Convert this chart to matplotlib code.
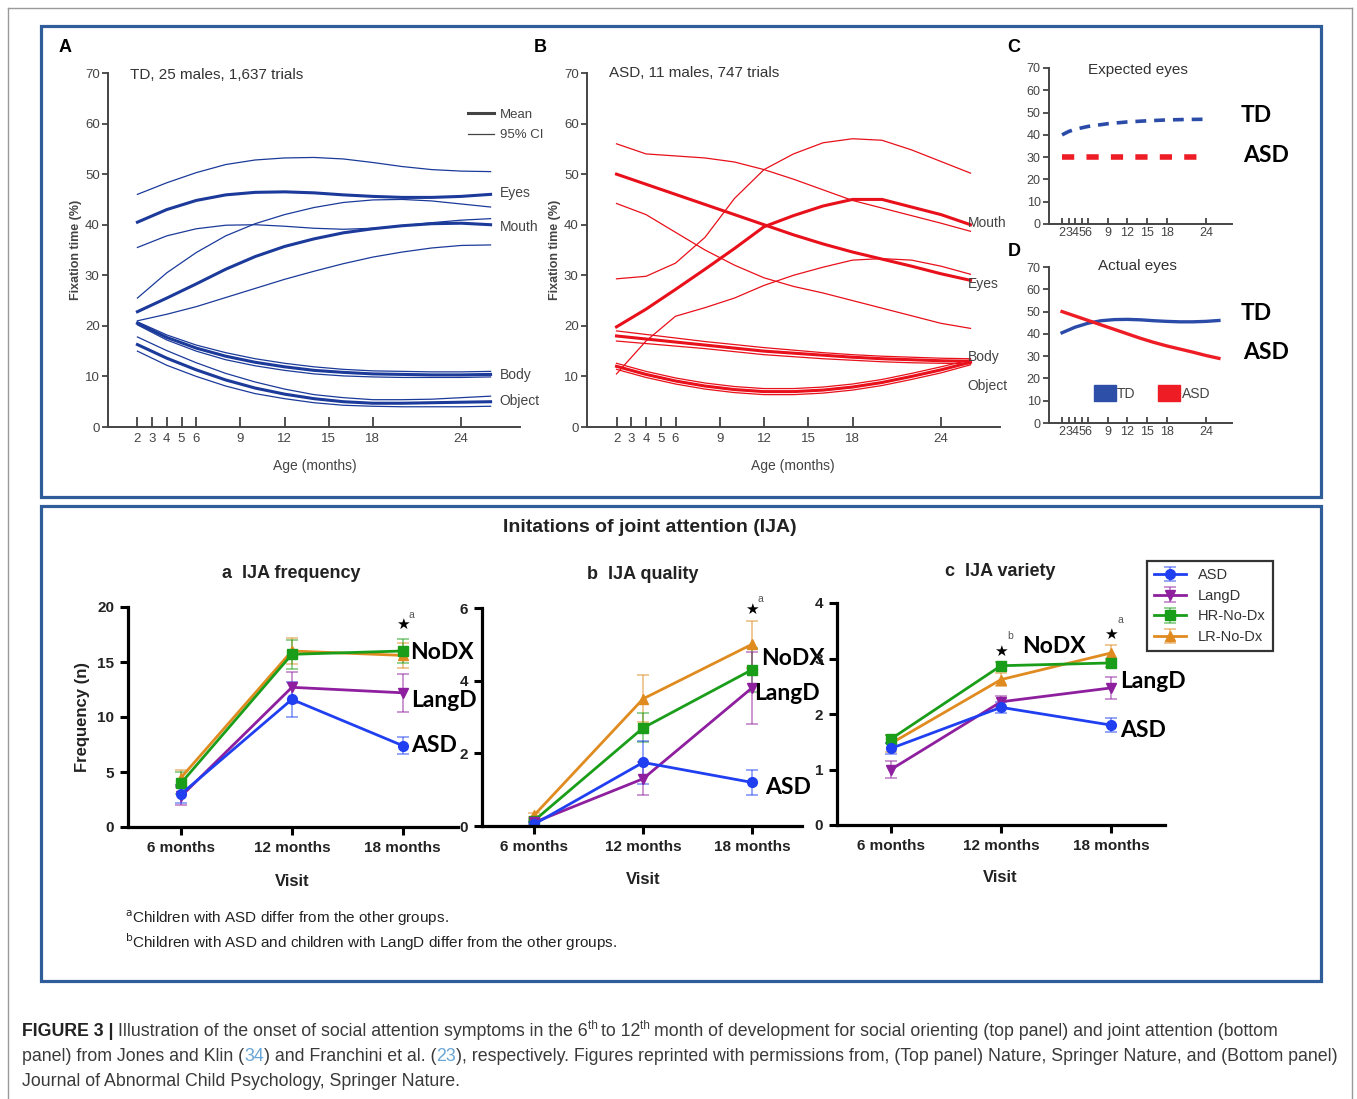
import numpy as np
import matplotlib
matplotlib.use("Agg")
import matplotlib.pyplot as plt
from matplotlib.lines import Line2D
from matplotlib.patches import Rectangle, Patch

W, H = 1357, 1099
NARROW = ['Liberation Sans Narrow', 'Liberation Sans', 'DejaVu Sans']
SANS = ['Liberation Sans', 'DejaVu Sans']
CALIBRI = ['Lato', 'DejaVu Sans']

# ---- top panel data (fixation time, %) ----
ages = [2, 4, 6, 8, 10, 12, 14, 16, 18, 20, 22, 24, 26]
age_ticks = [2, 3, 4, 5, 6, 9, 12, 15, 18, 24]

td_eyes = [40.5, 43.0, 44.8, 45.9, 46.4, 46.5, 46.3, 45.9, 45.6, 45.4, 45.4, 45.6, 46.0]
td_eyes_hi = [46.0, 48.3, 50.3, 51.9, 52.8, 53.2, 53.3, 53.0, 52.3, 51.5, 50.9, 50.6, 50.5]
td_eyes_lo = [35.5, 37.8, 39.2, 39.9, 40.0, 39.7, 39.3, 39.1, 39.3, 39.8, 40.4, 40.9, 41.2]
td_mouth = [22.8, 25.5, 28.3, 31.2, 33.7, 35.7, 37.2, 38.4, 39.2, 39.8, 40.2, 40.3, 40.0]
td_mouth_hi = [25.5, 30.5, 34.5, 37.8, 40.2, 42.0, 43.4, 44.4, 44.9, 45.0, 44.7, 44.1, 43.5]
td_mouth_lo = [21.0, 22.3, 23.8, 25.6, 27.4, 29.2, 30.8, 32.3, 33.6, 34.6, 35.4, 35.9, 36.0]
td_body = [20.5, 17.7, 15.6, 14.0, 12.8, 11.9, 11.2, 10.8, 10.5, 10.4, 10.3, 10.3, 10.4]
td_body_hi = [20.8, 18.2, 16.2, 14.7, 13.5, 12.6, 11.9, 11.4, 11.1, 11.0, 10.9, 10.9, 11.0]
td_body_lo = [20.2, 17.2, 15.0, 13.3, 12.1, 11.2, 10.5, 10.1, 9.9, 9.8, 9.8, 9.8, 9.9]
td_object = [16.3, 13.6, 11.3, 9.3, 7.7, 6.5, 5.6, 5.0, 4.7, 4.7, 4.8, 4.9, 5.0]
td_object_hi = [17.8, 15.1, 12.7, 10.6, 8.9, 7.5, 6.4, 5.8, 5.4, 5.4, 5.5, 5.8, 6.1]
td_object_lo = [15.0, 12.2, 10.0, 8.1, 6.6, 5.6, 4.8, 4.3, 4.1, 4.0, 4.0, 4.0, 4.1]

asd_eyes = [50.0, 48.0, 46.0, 44.0, 42.0, 40.0, 38.0, 36.2, 34.6, 33.2, 31.8, 30.3, 29.0]
asd_eyes_hi = [56.0, 54.0, 53.6, 53.2, 52.4, 50.9, 49.0, 46.9, 44.8, 43.3, 41.8, 40.3, 38.7]
asd_eyes_lo = [44.2, 42.0, 38.5, 35.0, 32.0, 29.5, 27.8, 26.5, 25.0, 23.5, 22.0, 20.5, 19.5]
asd_mouth = [19.8, 23.3, 27.2, 31.2, 35.3, 39.6, 41.8, 43.7, 45.0, 45.0, 43.5, 42.0, 40.0]
asd_mouth_hi = [29.3, 29.8, 32.4, 37.5, 45.2, 50.9, 54.0, 56.2, 57.0, 56.7, 54.8, 52.5, 50.2]
asd_mouth_lo = [10.5, 17.0, 21.9, 23.6, 25.5, 28.0, 30.0, 31.6, 33.0, 33.3, 33.0, 31.8, 30.2]
asd_body = [18.0, 17.4, 16.8, 16.2, 15.6, 15.0, 14.6, 14.2, 13.8, 13.5, 13.3, 13.1, 13.0]
asd_body_hi = [19.0, 18.3, 17.6, 16.9, 16.3, 15.7, 15.2, 14.7, 14.3, 14.0, 13.8, 13.6, 13.5]
asd_body_lo = [17.0, 16.5, 16.0, 15.5, 14.9, 14.3, 13.9, 13.5, 13.2, 12.9, 12.7, 12.6, 12.5]
asd_object = [12.0, 10.4, 9.1, 8.1, 7.4, 7.0, 7.0, 7.3, 7.9, 8.8, 10.0, 11.3, 12.8]
asd_object_hi = [12.6, 11.0, 9.7, 8.7, 8.0, 7.6, 7.6, 7.9, 8.5, 9.4, 10.6, 11.9, 13.3]
asd_object_lo = [11.4, 9.8, 8.5, 7.5, 6.8, 6.4, 6.4, 6.7, 7.3, 8.2, 9.4, 10.7, 12.3]

exp_ages = [2, 3, 4, 6, 9, 12, 15, 18, 21, 24]
td_expected = [40.0, 41.5, 42.5, 43.8, 45.0, 45.8, 46.3, 46.7, 46.9, 47.0]
asd_exp_ages = [2, 24]
asd_expected = [30.0, 30.0]

# ---- bottom panel data (IJA) ----
visits = ['6 months', '12 months', '18 months']
groups = ['ASD', 'LangD', 'HR-No-Dx', 'LR-No-Dx']
freq = {'ASD': [3.0, 11.6, 7.4], 'LangD': [2.8, 12.7, 12.2],
        'HR-No-Dx': [4.0, 15.7, 16.0], 'LR-No-Dx': [4.5, 16.0, 15.6]}
freq_err = {'ASD': [0.8, 1.6, 0.8], 'LangD': [0.8, 1.4, 1.7],
            'HR-No-Dx': [1.0, 1.3, 1.1], 'LR-No-Dx': [0.7, 1.2, 1.1]}
qual = {'ASD': [0.05, 1.75, 1.2], 'LangD': [0.1, 1.3, 3.8],
        'HR-No-Dx': [0.15, 2.7, 4.3], 'LR-No-Dx': [0.3, 3.5, 5.0]}
qual_err = {'ASD': [0.05, 0.6, 0.35], 'LangD': [0.05, 0.45, 1.0],
            'HR-No-Dx': [0.05, 0.4, 0.6], 'LR-No-Dx': [0.05, 0.65, 0.65]}
vari = {'ASD': [1.38, 2.12, 1.8], 'LangD': [1.0, 2.22, 2.47],
        'HR-No-Dx': [1.55, 2.87, 2.92], 'LR-No-Dx': [1.47, 2.62, 3.1]}
vari_err = {'ASD': [0.1, 0.1, 0.12], 'LangD': [0.15, 0.1, 0.2],
            'HR-No-Dx': [0.07, 0.07, 0.07], 'LR-No-Dx': [0.15, 0.12, 0.15]}
colors = {'ASD': '#1f3ff0', 'LangD': '#8e1f9e', 'HR-No-Dx': '#1a9e1a', 'LR-No-Dx': '#e08b20'}
markers = {'ASD': 'o', 'LangD': 'v', 'HR-No-Dx': 's', 'LR-No-Dx': '^'}

fig = plt.figure(figsize=(W / 100, H / 100), dpi=100)


def px_axes(l, t, r, b):
    return fig.add_axes([l / W, 1 - b / H, (r - l) / W, (b - t) / H])


def ftext(x, y, s, **kw):
    return fig.text(x / W, 1 - y / H, s, **kw)


# frames
for xs, ys in [([8, 8], [8, 1099]), ([8, 1352], [8, 8]), ([1352, 1352], [8, 1099])]:
    fig.add_artist(Line2D([x / W for x in xs], [1 - y / H for y in ys], color='#9a9a9a', lw=1))
for (l, t, r, b) in [(41, 26, 1321, 497), (41, 506, 1321, 981)]:
    fig.add_artist(Rectangle((l / W, 1 - b / H), (r - l) / W, (b - t) / H, fill=False,
                             edgecolor='#2e5d9a', lw=2.3, transform=fig.transFigure))


def style_top(ax, tsize=9.5):
    ax.set_xlim(0, 28)
    ax.set_ylim(0, 70)
    for s in ['top', 'right']:
        ax.spines[s].set_visible(False)
    for s in ['left', 'bottom']:
        ax.spines[s].set_color('#444444')
        ax.spines[s].set_linewidth(1.4)
    ax.set_xticks(age_ticks)
    ax.set_yticks(range(0, 71, 10))
    ax.tick_params(axis='x', direction='in', length=7, width=1.3, color='#444444',
                   labelcolor='#444444', labelsize=tsize, pad=4)
    ax.tick_params(axis='y', direction='out', length=4, width=1.3, color='#444444',
                   labelcolor='#444444', labelsize=tsize, pad=2)
    for lab in ax.get_xticklabels() + ax.get_yticklabels():
        lab.set_family(NARROW)
    ax.patch.set_alpha(0)


def draw_region(ax, color, mean, hi, lo):
    ax.plot(ages, hi, color=color, lw=0.9)
    ax.plot(ages, lo, color=color, lw=0.9)
    ax.plot(ages, mean, color=color, lw=2.2)


# panel A
axA = px_axes(108, 73, 520, 427)
style_top(axA)
blue = '#1b3a9a'
for m, h, l in [(td_eyes, td_eyes_hi, td_eyes_lo), (td_mouth, td_mouth_hi, td_mouth_lo),
                (td_body, td_body_hi, td_body_lo), (td_object, td_object_hi, td_object_lo)]:
    draw_region(axA, blue, m, h, l)
for lab, yv in [('Eyes', 46.3), ('Mouth', 39.5), ('Body', 10.3), ('Object', 5.1)]:
    axA.text(26.6, yv, lab, fontsize=10, family=NARROW, color='#444444', va='center', ha='left')
axA.legend(handles=[Line2D([], [], color='#444444', lw=2.2), Line2D([], [], color='#444444', lw=0.9)],
           labels=['Mean', '95% CI'], frameon=False, loc='upper left',
           bbox_to_anchor=(456 / W, 1 - 97 / H), bbox_transform=fig.transFigure,
           handlelength=2.0, handletextpad=0.4, labelspacing=0.6,
           prop={'family': NARROW, 'size': 9.5}, labelcolor='#444444')

# panel B
axB = px_axes(587, 73, 1000, 427)
style_top(axB)
red = '#e8101a'
for m, h, l in [(asd_eyes, asd_eyes_hi, asd_eyes_lo), (asd_mouth, asd_mouth_hi, asd_mouth_lo),
                (asd_body, asd_body_hi, asd_body_lo), (asd_object, asd_object_hi, asd_object_lo)]:
    draw_region(axB, red, m, h, l)
for lab, yv in [('Mouth', 40.3), ('Eyes', 28.3), ('Body', 13.8), ('Object', 8.2)]:
    axB.text(25.8, yv, lab, fontsize=10, family=NARROW, color='#444444', va='center', ha='left')

ftext(130, 75, 'TD, 25 males, 1,637 trials', fontsize=11, family=NARROW, color='#333333', va='center')
ftext(609, 73, 'ASD, 11 males, 747 trials', fontsize=11, family=NARROW, color='#333333', va='center')
for x in (76, 555):
    ftext(x, 250, 'Fixation time (%)', fontsize=9, family=SANS, color='#444444', rotation=90,
          va='center', ha='center', weight='bold')
ftext(315, 466, 'Age (months)', fontsize=10, family=NARROW, color='#444444', ha='center', va='center')
ftext(793, 466, 'Age (months)', fontsize=10, family=NARROW, color='#444444', ha='center', va='center')

# panels C and D
axC = px_axes(1049, 68, 1232, 224)
axD = px_axes(1049, 267, 1232, 423)
for ax in (axC, axD):
    style_top(ax, tsize=9)
    ax.set_xticklabels([str(a) for a in age_ticks])
    for lab in ax.get_xticklabels():
        lab.set_family(NARROW)
    ax.tick_params(axis='x', length=4, pad=2)
axC.plot(exp_ages, td_expected, color='#2b4ba8', lw=2.6, dashes=(3, 2.2))
axC.plot(asd_exp_ages, asd_expected, color='#ee1c25', lw=4, dashes=(2.2, 2.2))
axD.plot(ages, td_eyes, color='#2b4ba8', lw=2.4)
axD.plot(ages, asd_eyes, color='#ee1c25', lw=2.4)
axD.legend(handles=[Patch(facecolor='#2e4fa8', edgecolor='#2e4fa8'),
                    Patch(facecolor='#ee1c25', edgecolor='#ee1c25')],
           labels=['TD', 'ASD'], ncol=2, frameon=False, loc='center left',
           bbox_to_anchor=(1088 / W, 1 - 393 / H), bbox_transform=fig.transFigure,
           handlelength=1.6, handleheight=1.3, handletextpad=0.1, columnspacing=1.6,
           prop={'family': NARROW, 'size': 10}, labelcolor='#444444', borderaxespad=0)
ftext(1138, 70, 'Expected eyes', fontsize=11, family=NARROW, color='#333333', ha='center', va='center')
ftext(1137, 266, 'Actual eyes', fontsize=11, family=NARROW, color='#333333', ha='center', va='center')
for txt, x, y in [('TD', 1256, 116), ('ASD', 1266, 155), ('TD', 1256, 313), ('ASD', 1266, 352)]:
    ftext(x, y, txt, fontsize=16.5, family=CALIBRI, weight='bold', color='black', ha='center', va='center')

for txt, x, y in [('A', 65, 48), ('B', 540, 48), ('C', 1014, 48), ('D', 1014, 252)]:
    ftext(x, y, txt, fontsize=13, family=SANS, weight='bold', color='black', ha='center', va='center')

# ---- bottom panels ----
ftext(650, 527, 'Initations of joint attention (IJA)', fontsize=14, family=SANS, weight='bold',
      color='#222222', ha='center', va='center')


def ija(ax, data, err, ylim, yticks, xlim):
    for g in ['LR-No-Dx', 'HR-No-Dx', 'LangD', 'ASD']:
        eb = ax.errorbar(range(3), data[g], yerr=err[g], color=colors[g], marker=markers[g],
                         ms=7, lw=2, elinewidth=1.2, capsize=4, capthick=1.2, label=g)
        for a in list(eb[1]) + list(eb[2]):
            a.set_alpha(0.55)
    ax.set_xlim(*xlim)
    ax.set_ylim(*ylim)
    ax.set_yticks(yticks)
    ax.set_xticks(range(3))
    ax.set_xticklabels(visits)
    for s in ['top', 'right']:
        ax.spines[s].set_visible(False)
    for s in ['left', 'bottom']:
        ax.spines[s].set_linewidth(2.3)
    ax.tick_params(direction='out', length=6, width=2.2, labelsize=11, pad=4, labelcolor='#222222')
    for lab in ax.get_xticklabels() + ax.get_yticklabels():
        lab.set_family(SANS)
        lab.set_weight('bold')
    ax.patch.set_alpha(0)


axa = px_axes(128, 607, 458, 827)
ija(axa, freq, freq_err, (0, 20), [0, 5, 10, 15, 20], (-0.48, 2.5))
axb = px_axes(482, 608, 802, 826)
ija(axb, qual, qual_err, (0, 6), [0, 2, 4, 6], (-0.48, 2.46))
axc = px_axes(837, 603, 1165, 825)
ija(axc, vari, vari_err, (0, 4), [0, 1, 2, 3, 4], (-0.49, 2.49))

for txt, x, y in [('a  IJA frequency', 291, 573), ('b  IJA quality', 643, 575), ('c  IJA variety', 1000, 571)]:
    ftext(x, y, txt, fontsize=13, family=SANS, weight='bold', color='#222222', ha='center', va='center')
for x, y in [(292, 882), (643, 879), (1000, 878)]:
    ftext(x, y, 'Visit', fontsize=12, family=SANS, weight='bold', color='#222222', ha='center', va='center')
ftext(83, 717, 'Frequency (n)', fontsize=12, family=SANS, weight='bold', color='#222222',
      rotation=90, ha='center', va='center')

ann = dict(fontsize=16.5, family=CALIBRI, weight='bold', color='black', va='center', ha='left')
axa.text(2.07, 15.9, 'NoDX', **ann)
axa.text(2.08, 11.5, 'LangD', **ann)
axa.text(2.08, 7.45, 'ASD', **ann)
axb.text(2.08, 4.6, 'NoDX', **ann)
axb.text(2.02, 3.64, 'LangD', **ann)
axb.text(2.12, 1.05, 'ASD', **ann)
axc.text(1.19, 3.22, 'NoDX', **ann)
axc.text(2.08, 2.58, 'LangD', **ann)
axc.text(2.08, 1.71, 'ASD', **ann)

star = dict(fontsize=11, family=['DejaVu Sans'], color='black', ha='center', va='center')
sup = dict(fontsize=7.5, family=SANS, color='#555555', ha='left', va='center')
axa.text(2, 18.4, '\u2605', **star)
axa.text(2.05, 19.3, 'a', **sup)
axb.text(2, 5.95, '\u2605', **star)
axb.text(2.05, 6.25, 'a', **sup)
axc.text(1, 3.12, '\u2605', **star)
axc.text(1.06, 3.4, 'b', **sup)
axc.text(2, 3.44, '\u2605', **star)
axc.text(2.06, 3.7, 'a', **sup)

h, l = axc.get_legend_handles_labels()
order = [l.index(g) for g in groups]
leg = fig.legend([h[i] for i in order], [l[i] for i in order], loc='upper left',
                 bbox_to_anchor=(1147 / W, 1 - 561 / H), frameon=True, fancybox=False,
                 edgecolor='black', prop={'family': SANS, 'size': 10.5}, labelcolor='#333333',
                 handlelength=2.2, borderpad=0.5, labelspacing=0.45, borderaxespad=0)
leg.get_frame().set_linewidth(1.6)

ftext(125, 918, r'$^{\rm a}$Children with ASD differ from the other groups.', fontsize=11,
      family=SANS, color='#222222', va='center')
ftext(125, 942, r'$^{\rm b}$Children with ASD and children with LangD differ from the other groups.',
      fontsize=11, family=SANS, color='#222222', va='center')

# ---- caption ----
renderer = fig.canvas.get_renderer()


def measure(s, kw):
    t1 = fig.text(0, 0, s + 'l', **kw)
    t2 = fig.text(0, 0, 'l', **kw)
    w = t1.get_window_extent(renderer).width - t2.get_window_extent(renderer).width
    t1.remove()
    t2.remove()
    return w


def run_text(x, y, pieces):
    for s, extra in pieces:
        kw = dict(fontsize=12.8, family=SANS, color='#3a3a3a', va='baseline', ha='left')
        dy = extra.pop('dy', 0)
        kw.update(extra)
        fig.text(x / W, 1 - (y - dy) / H, s, **kw)
        x += measure(s, kw)


SUPK = {'fontsize': 8.5, 'dy': 7}
run_text(22, 1036, [('FIGURE 3 | ', {'weight': 'bold', 'color': '#222222'}),
                    ('Illustration of the onset of social attention symptoms in the 6', {}),
                    ('th ', dict(SUPK)), ('to 12', {}), ('th ', dict(SUPK)),
                    ('month of development for social orienting (top panel) and joint attention (bottom', {})])
run_text(22, 1061, [('panel) from Jones and Klin (', {}), ('34', {'color': '#6aa6d6'}),
                    (') and Franchini et al. (', {}), ('23', {'color': '#6aa6d6'}),
                    ('), respectively. Figures reprinted with permissions from, (Top panel) Nature, '
                     'Springer Nature, and (Bottom panel)', {})])
run_text(22, 1086, [('Journal of Abnormal Child Psychology, Springer Nature.', {})])

fig.savefig('out.png', dpi=100)
